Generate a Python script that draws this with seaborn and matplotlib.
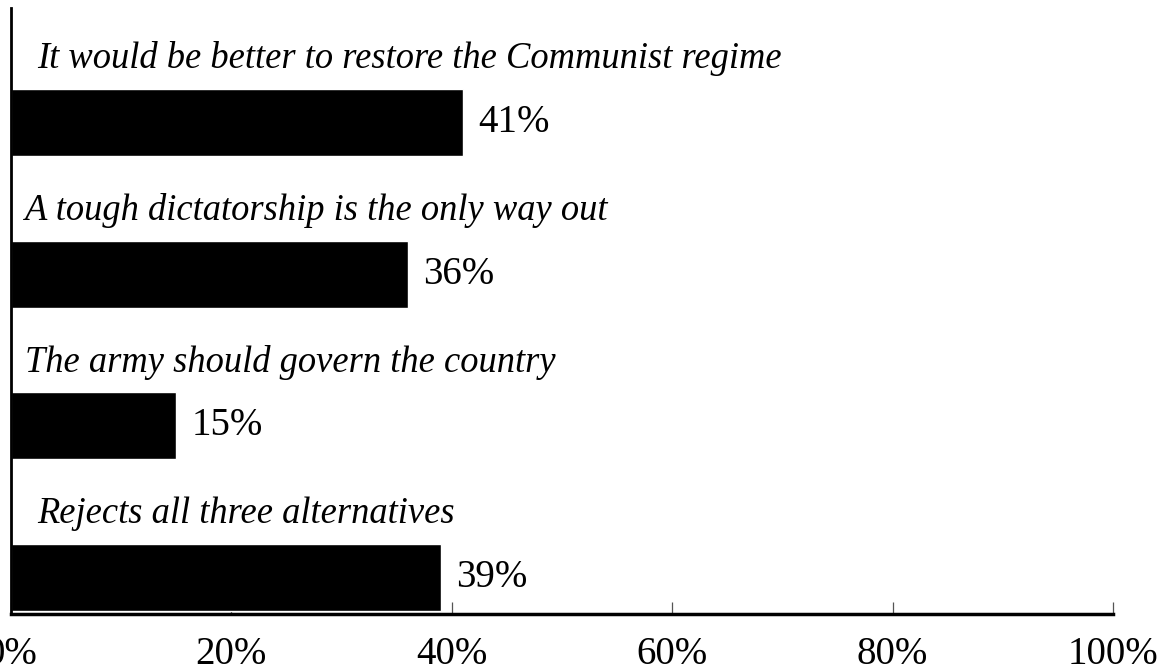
import matplotlib
matplotlib.use("Agg")
import matplotlib.pyplot as plt
import seaborn as sns
import pandas as pd

categories = [
    "It would be better to restore the Communist regime",
    "A tough dictatorship is the only way out",
    "The army should govern the country",
    "Rejects all three alternatives",
]
values = [41, 36, 15, 39]
tick_values = [0, 20, 40, 60, 80, 100]
tick_labels = ["0%", "20%", "40%", "60%", "80%", "100%"]

# horizontal offsets of the category captions (points)
caption_dx = [19, 10, 10, 19]

sns.set_theme(style="white")
plt.rcParams["font.family"] = ["Liberation Serif", "DejaVu Serif"]
plt.rcParams["text.color"] = "black"
plt.rcParams["xtick.color"] = "black"

df = pd.DataFrame({"cat": categories, "val": values})

fig = plt.figure(figsize=(11.63, 6.72), dpi=100)
ax = fig.add_axes([11 / 1163, 58 / 672, 1102 / 1163, 606 / 672])

sns.barplot(data=df, x="val", y="cat", color="black", width=0.44,
            saturation=1, ax=ax, orient="h")

ax.set_xlim(0, 100)
ax.set_ylim(3.241, -0.756)
ax.set_xticks(tick_values)
ax.set_xticklabels(tick_labels, fontsize=28, color="black")
ax.set_yticks([])
ax.set_xlabel("")
ax.set_ylabel("")

ax.tick_params(axis="x", direction="in", length=9, width=0.9, color="#555555",
               pad=15.5, bottom=True, labelcolor="black")

for side in ["top", "right"]:
    ax.spines[side].set_visible(False)
ax.spines["left"].set_linewidth(2)
ax.spines["left"].set_color("black")
ax.spines["bottom"].set_linewidth(2.5)
ax.spines["bottom"].set_color("black")

for i, (cat, val) in enumerate(zip(categories, values)):
    ax.annotate(cat, xy=(0, i - 0.22), xytext=(caption_dx[i], 15),
                textcoords="offset points", ha="left", va="baseline",
                fontsize=26.3, style="italic", color="black")
    ax.annotate(f"{val}%", xy=(val, i), xytext=(11, 0), textcoords="offset points",
                ha="left", va="center", fontsize=28, color="black")

fig.savefig("out.png", dpi=100)
